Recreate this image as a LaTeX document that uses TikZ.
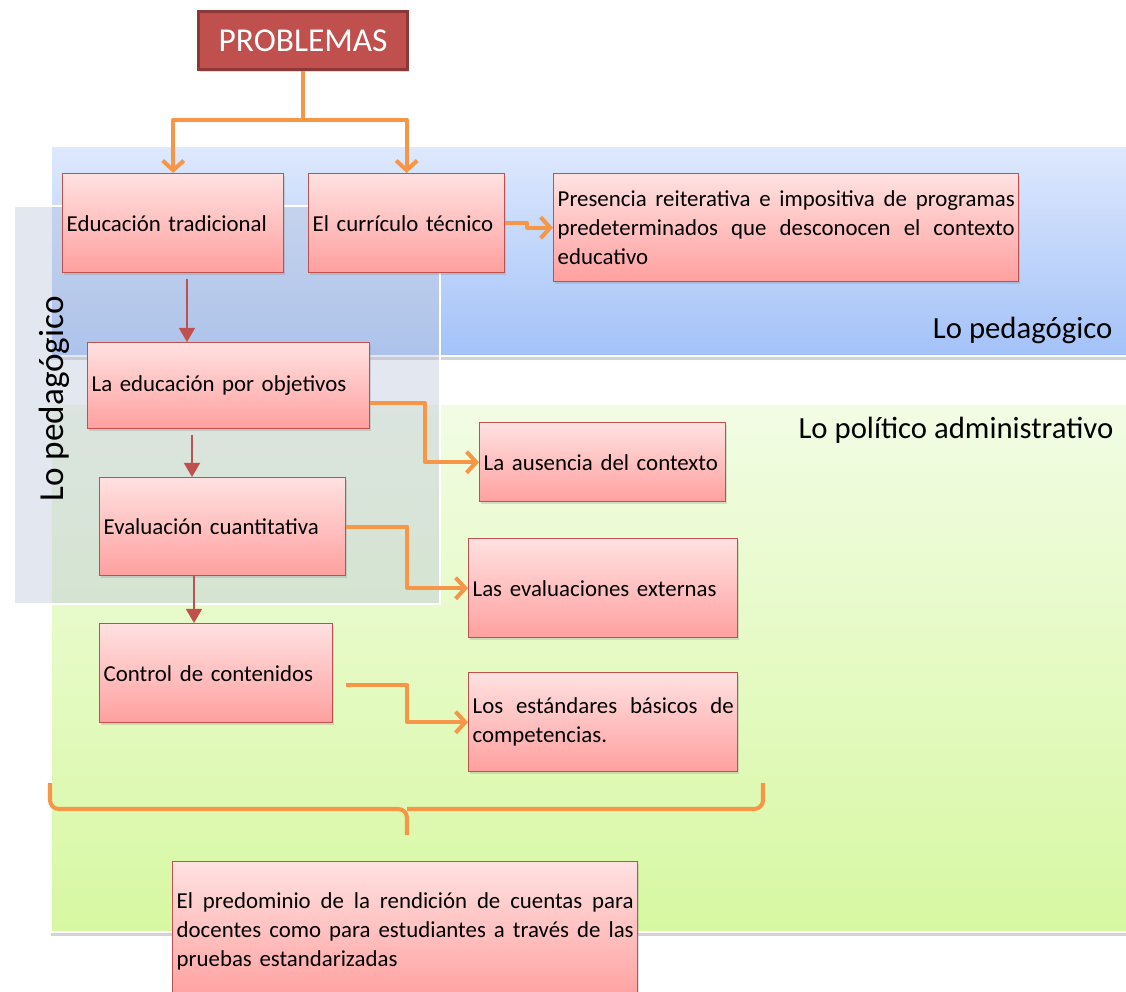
\documentclass[tikz,border=0pt]{standalone}
\usepackage{fontspec}
\setmainfont{Carlito}
\usetikzlibrary{positioning,shapes,arrows.meta,shadows,calc}
\usepackage{xcolor}

\definecolor{naranja}{HTML}{F79646}
\definecolor{rojo}{HTML}{C0504D}
\definecolor{rojooscuro}{HTML}{8C3836}
\definecolor{rosaA}{HTML}{FFE1E1}
\definecolor{rosaB}{HTML}{FFA09F}
\definecolor{azulA}{HTML}{DEE9FD}
\definecolor{azulB}{HTML}{A3C2F8}
\definecolor{verdeA}{HTML}{F2FCE4}
\definecolor{verdeB}{HTML}{D7F8A2}
\definecolor{grisrec}{HTML}{BCC5DA}

\newcommand{\cuerpo}{\fontsize{13}{16.5}\selectfont}
\newcommand{\linj}[1]{\hbox to \hsize{\spaceskip=0.25em plus 1fil\relax #1}}

\begin{document}
\begin{tikzpicture}[x=0.02cm, y=-0.02cm, line width=0.75pt,
    caja/.style 2 args={rectangle, draw=rojo, line width=0.8pt,
        top color=rosaA, bottom color=rosaB, anchor=north west,
        text width=(#1-8)*0.02cm, minimum height=#2*0.02cm,
        inner xsep=0.08cm, inner ysep=0pt, align=left, font=\cuerpo,
        drop shadow={shadow xshift=0.6pt, shadow yshift=-1.2pt, opacity=0.25}},
    franja/.style 2 args={rectangle, draw=white, line width=1pt, anchor=north west,
        minimum width=#1*0.02cm, minimum height=#2*0.02cm, inner sep=0pt,
        drop shadow={shadow xshift=0pt, shadow yshift=-2.5pt, opacity=0.35}},
    titulo/.style={font=\fontsize{17.5}{20}\selectfont, inner sep=0pt},
    flecha/.style={draw=naranja, line width=2.3pt, line join=round,
        -{Straight Barb[length=5.5pt, width=12pt, line width=2.3pt]}},
    flecharoja/.style={draw=rojo, line width=1.2pt, -{Triangle[length=8pt, width=9pt]}}]

\useasboundingbox (0,0) rectangle (1126,991);

\node[franja={1090}{210}, top color=azulA, bottom color=azulB] (franjaped) at (50,145) {};
\node[franja={1090}{528}, top color=verdeA, bottom color=verdeB] (franjapol) at (50,403) {};
\node[rectangle, anchor=north west, draw=white, line width=1.2pt, fill=grisrec, fill opacity=0.42,
    minimum width=426*0.02cm, minimum height=398*0.02cm, inner sep=0pt] (recuadro) at (13,205) {};

\node[titulo, anchor=base east] (etiqped) at (1113,338) {Lo pedagógico};
\node[titulo, anchor=base east] (etiqpol) at (1114,438) {Lo político administrativo};
\node[inner sep=0pt, anchor=base west, rotate=90, font=\fontsize{20}{24}\selectfont] (etiqvert) at (63,502) {Lo pedagógico};

\node[rectangle, anchor=north west, fill=rojo, draw=rojooscuro, line width=1.8pt, text=white,
    minimum width=209*0.02cm, minimum height=58*0.02cm, font=\fontsize{19}{22}\selectfont,
    drop shadow={shadow xshift=0.6pt, shadow yshift=-1.2pt, opacity=0.25}] (problemas) at (197,10) {PROBLEMAS};

\node[caja={221}{99}] (edtrad) at (62,173) {Educación tradicional};
\node[caja={196}{99}] (curriculo) at (308,173) {El currículo técnico};
\node[caja={465}{108}] (presencia) at (553,173) {\linj{Presencia reiterativa e impositiva de programas}
    \linj{predeterminados que desconocen el contexto} educativo};
\node[caja={282}{86}] (objetivos) at (87,342) {La educación por objetivos};
\node[caja={246}{79}] (ausencia) at (479,422) {La ausencia del contexto};
\node[caja={246}{98}] (evaluacion) at (99,477) {Evaluación cuantitativa};
\node[caja={269}{99}] (externas) at (468,538) {Las evaluaciones externas};
\node[caja={233}{99}] (control) at (99,623) {Control de contenidos};
\node[caja={269}{99}] (estandares) at (468,672) {\linj{Los estándares básicos de} competencias.};
\node[caja={465}{140}] (predominio) at (172,861) {\linj{El predominio de la rendición de cuentas para}
    \linj{docentes como para estudiantes a través de las} pruebas estandarizadas};

\coordinate (cruce) at (problemas.south |- 0,120);
\draw[draw=naranja, line width=2.3pt] (problemas.south) -- (cruce);
\draw[flecha] (cruce) -| (edtrad.north);
\draw[flecha] (cruce) -| (curriculo.north);
\draw[flecha] (curriculo.east) -- ++(22,0) |- (presencia.west);

\draw[flecharoja, shorten <=3pt] (edtrad.south -| 187,0) -- (objetivos.north -| 187,0);
\draw[flecharoja, shorten <=3pt] (objetivos.south -| 192,0) -- (evaluacion.north -| 192,0);
\draw[flecharoja] (evaluacion.south -| 194,0) -- (control.north -| 194,0);

\draw[flecha] (objetivos.east |- 0,403) -- (425,403) |- (ausencia.west);
\draw[flecha] (evaluacion.east) -- ++(61,0) |- (externas.west);
\draw[flecha] ([shift={(13,12)}]control.east) -- ++(61,0) |- (estandares.west);

\draw[draw=naranja, line width=2.3pt, rounded corners=5pt] (50,783) |- (407,809) -- (407,835);
\draw[draw=naranja, line width=2.3pt, rounded corners=5pt] (763,783) |- (407,809);
\end{tikzpicture}
\end{document}
